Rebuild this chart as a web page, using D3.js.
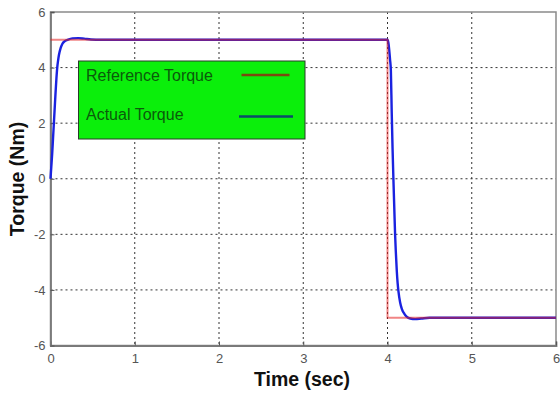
<!DOCTYPE html>
<html>
<head>
<meta charset="utf-8">
<script src="https://cdn.jsdelivr.net/npm/d3@7"></script>
<style>
  html, body { margin: 0; padding: 0; background: #ffffff; }
  svg { display: block; }
</style>
</head>
<body>
<svg id="chart" width="560" height="396"></svg>
<script>
// Torque step response: commanded reference vs. measured torque
const refTime = [0, 4, 4, 6];
const refTorque = [5, 5, -5, -5];

const actualTime = [
  0, 0.01, 0.02, 0.03, 0.04, 0.05, 0.06, 0.07, 0.08, 0.09, 0.10, 0.12, 0.14,
  0.17, 0.21, 0.26, 0.33, 0.40, 0.48, 0.60, 4.00, 4.01, 4.02, 4.03, 4.04,
  4.05, 4.06, 4.07, 4.08, 4.09, 4.10, 4.11, 4.12, 4.13, 4.15, 4.17, 4.20,
  4.23, 4.27, 4.33, 4.40, 4.50, 6.00
];
const actualTorque = [
  0, 0.45, 0.9, 1.45, 2.0, 2.55, 3.1, 3.6, 4.0, 4.25, 4.45, 4.7, 4.85,
  4.95, 5.01, 5.05, 5.06, 5.04, 5.01, 5.0, 5.0, 4.9, 4.65, 4.3, 3.9,
  2.4, 1.1, 0, -1.0, -2.0, -2.7, -3.3, -3.75, -4.05, -4.45, -4.68, -4.86,
  -4.97, -5.03, -5.05, -5.03, -5.0, -5.0
];

const xTicks = [0, 1, 2, 3, 4, 5, 6];
const yTicks = [-6, -4, -2, 0, 2, 4, 6];
const legendLabels = ["Reference Torque", "Actual Torque"];

const svg = d3.select("#chart");
const plotL = 50.5, plotR = 556, plotT = 12, plotB = 345.5;

const x = d3.scaleLinear().domain([0, 6]).range([plotL, plotR]);
const y = d3.scaleLinear().domain([-6, 6]).range([plotB, plotT]);

// dotted grid
const grid = svg.append("g");
grid.selectAll("line.gx").data(xTicks.slice(1, -1)).join("line")
  .attr("x1", d => x(d)).attr("x2", d => x(d))
  .attr("y1", plotT).attr("y2", plotB)
  .attr("stroke", "#333").attr("stroke-width", 1)
  .attr("stroke-dasharray", "2,3");
grid.selectAll("line.gy").data(yTicks.slice(1, -1)).join("line")
  .attr("x1", plotL).attr("x2", plotR)
  .attr("y1", d => y(d)).attr("y2", d => y(d))
  .attr("stroke", "#333").attr("stroke-width", 1)
  .attr("stroke-dasharray", "2,3");

// box frame
svg.append("rect")
  .attr("x", plotL).attr("y", plotT)
  .attr("width", plotR - plotL).attr("height", plotB - plotT)
  .attr("fill", "none").attr("stroke", "#8a8a8a").attr("stroke-width", 1.5);

// axes with tick labels (plain hyphen for negatives)
const tickFmt = d => String(d);
const xAxis = svg.append("g").attr("transform", `translate(0,${plotB})`)
  .call(d3.axisBottom(x).tickValues(xTicks).tickSize(-4).tickPadding(8).tickFormat(tickFmt));
const yAxis = svg.append("g").attr("transform", `translate(${plotL},0)`)
  .call(d3.axisLeft(y).tickValues(yTicks).tickSize(-4).tickPadding(5).tickFormat(tickFmt));
[xAxis, yAxis].forEach(a => {
  a.select(".domain").attr("stroke", "#7a7a7a").attr("stroke-width", 1.8);
  a.selectAll(".tick line").attr("stroke", "#555");
  a.selectAll(".tick text")
    .attr("fill", "#555")
    .style("font-family", "'Liberation Sans', Arial, sans-serif")
    .style("font-size", "13px");
});

// series
const actualPts = actualTime.map((t, i) => [t, actualTorque[i]]);
const refPts = refTime.map((t, i) => [t, refTorque[i]]);

svg.append("path").datum(actualPts)
  .attr("d", d3.line().x(d => x(d[0])).y(d => y(d[1])).curve(d3.curveMonotoneX))
  .attr("fill", "none").attr("stroke", "#1a22e0").attr("stroke-width", 2.4);
svg.append("path").datum(refPts)
  .attr("d", d3.line().x(d => x(d[0])).y(d => y(d[1])))
  .attr("fill", "none").attr("stroke", "#e52020").attr("stroke-opacity", 0.55)
  .attr("stroke-width", 2);

// legend
const lg = svg.append("g");
lg.append("rect")
  .attr("x", 78.5).attr("y", 61).attr("width", 226.5).attr("height", 78)
  .attr("fill", "#0bef0b").attr("stroke", "#2a3a2a").attr("stroke-width", 1);
const legendColors = ["#7a4a10", "#0c4a6a"];
const legendY = [75, 116.5];
const legendBase = [80.5, 119.5];
const legendX = [[241.5, 289.5], [239, 293]];
legendLabels.forEach((lab, i) => {
  lg.append("text")
    .attr("x", 86).attr("y", legendBase[i])
    .attr("fill", "#0b5a0b")
    .style("font-family", "'Liberation Sans', Arial, sans-serif")
    .style("font-size", "16px")
    .text(lab);
  lg.append("line")
    .attr("x1", legendX[i][0]).attr("x2", legendX[i][1])
    .attr("y1", legendY[i]).attr("y2", legendY[i])
    .attr("stroke", legendColors[i]).attr("stroke-width", 2.5);
});

// axis titles
svg.append("text")
  .attr("x", 302).attr("y", 386)
  .attr("text-anchor", "middle")
  .attr("fill", "#111")
  .style("font-family", "'Liberation Sans', Arial, sans-serif")
  .style("font-weight", "bold")
  .style("font-size", "19.5px")
  .text("Time (sec)");
svg.append("text")
  .attr("transform", "translate(23.5,179) rotate(-90)")
  .attr("text-anchor", "middle")
  .attr("fill", "#111")
  .style("font-family", "'Liberation Sans', Arial, sans-serif")
  .style("font-weight", "bold")
  .style("font-size", "19.5px")
  .text("Torque (Nm)");
</script>
</body>
</html>
